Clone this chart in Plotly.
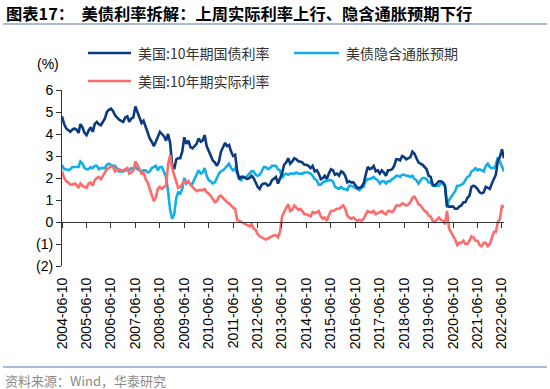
import plotly.graph_objects as go

# ---------------- data (monthly readings) ----------------
START_YEAR, START_MONTH = 2004, 6

nominal_10y = [
    4.8, 4.45, 4.25, 4.15, 4.1, 4.2, 4.25,
    4.2, 4.05, 4.45, 4.3, 4.05, 3.95, 4.15, 4.3, 4.1, 4.45, 4.55, 4.45,
    4.4, 4.55, 4.7, 5.0, 5.1, 5.15, 5.05, 4.85, 4.75, 4.65, 4.6, 4.55,
    4.75, 4.8, 4.55, 4.7, 4.75, 5.25, 5.0, 4.75, 4.5, 4.6, 4.3, 4.05,
    3.8, 3.65, 3.45, 3.65, 3.85, 4.1, 4.0, 3.9, 3.7, 4.0, 3.6, 2.6,
    2.4, 2.85, 2.9, 2.9, 3.2, 3.85, 3.55, 3.7, 3.4, 3.35, 3.45, 3.55,
    3.8, 3.65, 3.7, 3.95, 3.45, 3.2, 3.05, 2.8, 2.7, 2.55, 2.75, 3.2,
    3.4, 3.6, 3.45, 3.5, 3.2, 3.0, 3.05, 2.3, 1.95, 2.05, 2.05, 2.0,
    1.95, 2.0, 2.1, 2.0, 1.8, 1.6, 1.5, 1.7, 1.75, 1.75, 1.65, 1.7,
    1.9, 2.0, 2.05, 1.75, 1.95, 2.2, 2.6, 2.7, 2.9, 2.65, 2.75, 2.9,
    2.85, 2.75, 2.75, 2.7, 2.6, 2.6, 2.55, 2.45, 2.55, 2.3, 2.35, 2.2,
    1.95, 2.0, 2.1, 1.95, 2.2, 2.4, 2.35, 2.15, 2.2, 2.1, 2.3, 2.25,
    2.1, 1.8, 1.85, 1.8, 1.8, 1.65, 1.55, 1.55, 1.6, 1.75, 2.2, 2.5,
    2.4, 2.45, 2.55, 2.3, 2.35, 2.2, 2.35, 2.25, 2.1, 2.35, 2.35, 2.4,
    2.55, 2.85, 2.85, 2.8, 3.0, 2.95, 2.85, 2.9, 2.95, 3.2, 3.1, 2.9,
    2.7, 2.65, 2.6, 2.5, 2.4, 2.1, 2.05, 1.7, 1.65, 1.75, 1.85, 1.85,
    1.8, 1.6, 0.75, 0.7, 0.7, 0.7, 0.6, 0.6, 0.7, 0.75, 0.9, 0.9,
    1.1, 1.2, 1.6, 1.65, 1.6, 1.5, 1.35, 1.3, 1.35, 1.6, 1.55, 1.5,
    1.75, 1.95, 2.15, 2.8, 2.95, 3.3, 2.9,
]

breakeven_10y = [
    2.6, 2.4, 2.4, 2.35, 2.4, 2.5, 2.5,
    2.5, 2.5, 2.75, 2.65, 2.45, 2.4, 2.4, 2.5, 2.45, 2.55, 2.55, 2.4,
    2.45, 2.45, 2.45, 2.6, 2.65, 2.6, 2.55, 2.55, 2.4, 2.3, 2.3, 2.3,
    2.35, 2.35, 2.35, 2.45, 2.4, 2.5, 2.4, 2.35, 2.3, 2.35, 2.35, 2.25,
    2.3, 2.45, 2.5, 2.55, 2.35, 2.5, 2.5, 2.3, 2.05, 1.4, 0.55, 0.15,
    0.35, 1.1, 1.35, 1.3, 1.5, 2.0, 1.75, 1.85, 1.7, 1.75, 1.95, 2.15,
    2.35, 2.2, 2.25, 2.45, 2.1, 1.9, 1.85, 1.75, 1.8, 2.0, 2.2, 2.3,
    2.35, 2.45, 2.55, 2.65, 2.45, 2.35, 2.45, 2.2, 1.95, 1.9, 2.05, 2.0,
    2.1, 2.25, 2.3, 2.3, 2.15, 2.1, 2.15, 2.3, 2.5, 2.5, 2.4, 2.45,
    2.55, 2.55, 2.55, 2.4, 2.35, 2.0, 2.15, 2.2, 2.15, 2.2, 2.2, 2.2,
    2.25, 2.2, 2.2, 2.2, 2.25, 2.25, 2.25, 2.2, 2.1, 1.95, 1.9, 1.7,
    1.7, 1.8, 1.85, 1.85, 1.9, 1.9, 1.85, 1.6, 1.55, 1.5, 1.6, 1.5,
    1.5, 1.45, 1.65, 1.65, 1.6, 1.55, 1.5, 1.45, 1.55, 1.6, 1.85, 1.95,
    1.95, 2.0, 2.05, 1.95, 1.9, 1.75, 1.85, 1.85, 1.75, 1.85, 1.85, 1.95,
    2.0, 2.1, 2.1, 2.05, 2.15, 2.15, 2.1, 2.1, 2.05, 2.1, 1.95, 1.9,
    1.75, 1.9, 2.0, 2.0, 1.95, 1.8, 1.8, 1.65, 1.65, 1.65, 1.65, 1.75,
    1.75, 1.7, 0.65, 1.0, 1.15, 1.3, 1.4, 1.65, 1.65, 1.7, 1.75, 1.9,
    2.05, 2.1, 2.3, 2.35, 2.45, 2.35, 2.4, 2.35, 2.3, 2.55, 2.65, 2.5,
    2.45, 2.45, 2.6, 2.95, 2.75, 2.55, 2.3,
]

real_10y = [
    2.3, 2.0, 1.85, 1.8, 1.7, 1.7, 1.75,
    1.7, 1.55, 1.75, 1.65, 1.6, 1.55, 1.75, 1.8, 1.65, 1.9, 2.0, 2.05,
    1.95, 2.1, 2.25, 2.4, 2.45, 2.55, 2.5, 2.3, 2.35, 2.4, 2.35, 2.35,
    2.4, 2.45, 2.2, 2.25, 2.35, 2.75, 2.6, 2.4, 2.2, 2.25, 1.95, 1.8,
    1.5, 1.2, 0.95, 1.1, 1.5, 1.6, 1.5, 1.6, 1.65, 2.6, 3.05, 2.45,
    2.1, 1.75, 1.55, 1.6, 1.7, 1.85, 1.8, 1.85, 1.7, 1.6, 1.5, 1.4,
    1.45, 1.45, 1.45, 1.5, 1.35, 1.3, 1.2, 1.05, 0.9, 0.95, 1.15, 1.2,
    1.1, 1.0, 0.9, 0.85, 0.75, 0.65, 0.6, 0.1, 0.05, 0.0, -0.05, -0.1,
    -0.15, -0.2, -0.1, -0.3, -0.35, -0.55, -0.65, -0.7, -0.75, -0.8, -0.75, -0.7,
    -0.65, -0.6, -0.6, -0.7, -0.45, 0.25, 0.45, 0.6, 0.8, 0.5, 0.55, 0.75,
    0.65, 0.55, 0.6, 0.5, 0.35, 0.35, 0.3, 0.25, 0.45, 0.4, 0.45, 0.5,
    0.25, 0.15, 0.2, 0.05, 0.3, 0.5, 0.5, 0.55, 0.6, 0.6, 0.7, 0.75,
    0.6, 0.3, 0.2, 0.15, 0.2, 0.1, 0.05, 0.1, 0.05, 0.15, 0.35, 0.5,
    0.45, 0.45, 0.5, 0.35, 0.4, 0.45, 0.5, 0.4, 0.35, 0.5, 0.5, 0.45,
    0.55, 0.75, 0.75, 0.75, 0.85, 0.8, 0.75, 0.8, 0.9, 1.1, 1.15, 1.0,
    0.8, 0.75, 0.6, 0.5, 0.45, 0.3, 0.25, 0.05, 0.0, 0.1, 0.2, 0.1,
    0.05, -0.1, 0.5, -0.3, -0.45, -0.6, -0.8, -1.05, -0.95, -0.95, -0.85, -1.0,
    -1.0, -0.85, -0.65, -0.7, -0.85, -0.85, -1.05, -1.1, -0.95, -0.95, -1.1, -1.0,
    -0.7, -0.45, -0.45, 0.0, 0.15, 0.75, 0.65,
]

series_names = ["美国:10年期国债利率", "美债隐含通胀预期", "美国:10年期实际利率"]
series_colors = ["#0b3a7e", "#12aeea", "#ff6a6a"]

x_tick_vals = [f"{y}-06-10" for y in range(2004, 2023)]
x_tick_text = x_tick_vals
y_tick_vals = [-2, -1, 0, 1, 2, 3, 4, 5, 6]
y_tick_text = ["(2)", "(1)", "0", "1", "2", "3", "4", "5", "6"]

# monthly dates
dates = []
y, m = START_YEAR, START_MONTH
for _ in range(len(nominal_10y)):
    dates.append(f"{y}-{m:02d}-12")
    m += 1
    if m > 12:
        m = 1
        y += 1
dates[0] = "2004-06-10"

X_START, X_END = "2004-06-10", dates[-1]

# ---------------- figure ----------------
W, H = 550, 389
L, R, T, B = 62, 46, 90, 123
PW, PH = W - L - R, H - T - B


def px(xp):
    return (xp - L) / PW


def py(yp):
    return (H - B - yp) / PH


fig = go.Figure()
order = [1, 0, 2]
all_vals = [nominal_10y, breakeven_10y, real_10y]
for i in order:
    fig.add_trace(go.Scatter(x=dates, y=all_vals[i], mode="lines", name=series_names[i],
                             line=dict(color=series_colors[i], width=2.6), showlegend=False,
                             hoverinfo="skip"))

num_font = "Liberation Sans, Arial, sans-serif"
cjk_font = "Noto Sans CJK SC, sans-serif"

fig.update_layout(
    width=W, height=H,
    margin=dict(l=L, r=R, t=T, b=B, autoexpand=False),
    paper_bgcolor="white", plot_bgcolor="white",
    showlegend=False,
    xaxis=dict(
        type="date", range=[X_START, X_END],
        tickvals=x_tick_vals, ticktext=x_tick_text, tickangle=-90,
        tickfont=dict(family=num_font, size=14, color="#000000"),
        showgrid=False, zeroline=False,
        showline=True, linecolor="#333333", linewidth=1,
        ticks="outside", ticklen=5, tickcolor="#333333",
        anchor="free", position=0.25, automargin=False,
        ticklabelstandoff=44,
    ),
    yaxis=dict(
        range=[-2, 6], tickvals=y_tick_vals, ticktext=y_tick_text,
        tickfont=dict(family=num_font, size=14, color="#000000"),
        showgrid=False, zeroline=False,
        showline=True, linecolor="#333333", linewidth=1,
        ticks="outside", ticklen=5, tickcolor="#333333",
        automargin=False,
    ),
)

shapes = []
annotations = []

# header / footer rules
rule_color = "#8ea6cc"
shapes.append(dict(type="line", xref="paper", yref="paper", x0=px(3), x1=px(547),
                   y0=py(24), y1=py(24), line=dict(color=rule_color, width=1.5)))
shapes.append(dict(type="line", xref="paper", yref="paper", x0=px(3), x1=px(547),
                   y0=py(367), y1=py(367), line=dict(color=rule_color, width=1.5)))

annotations.append(dict(xref="paper", yref="paper", x=px(4), y=py(13), xanchor="left", yanchor="middle",
                        text="<b>图表17：  美债利率拆解：上周实际利率上行、隐含通胀预期下行</b>",
                        showarrow=False, font=dict(family=cjk_font, size=16.3, color="#000000")))
annotations.append(dict(xref="paper", yref="paper", x=px(3), y=py(380), xanchor="left", yanchor="middle",
                        text="资料来源：Wind，华泰研究", showarrow=False,
                        font=dict(family=cjk_font, size=13, color="#8a8a8a")))
annotations.append(dict(xref="paper", yref="paper", x=px(48), y=py(64), xanchor="center", yanchor="middle",
                        text="(%)", showarrow=False, font=dict(family=num_font, size=14, color="#000000")))

# manual legend
legend_items = [
    (series_names[0], series_colors[0], 88, 131, 53),
    (series_names[1], series_colors[1], 294, 339, 53),
    (series_names[2], series_colors[2], 88, 131, 81),
]
for name, col, x0, x1, yy in legend_items:
    shapes.append(dict(type="line", xref="paper", yref="paper", x0=px(x0), x1=px(x1),
                       y0=py(yy), y1=py(yy), line=dict(color=col, width=2.5)))
    annotations.append(dict(xref="paper", yref="paper", x=px(x1 + 5), y=py(yy), xanchor="left",
                            yanchor="middle", text=name, showarrow=False,
                            font=dict(family=cjk_font, size=14, color="#333333")))

fig.update_layout(shapes=shapes, annotations=annotations)
fig.write_html("out.html",
               config={"displayModeBar": False},
               post_script="document.body.style.margin='0';document.body.style.padding='0';")
